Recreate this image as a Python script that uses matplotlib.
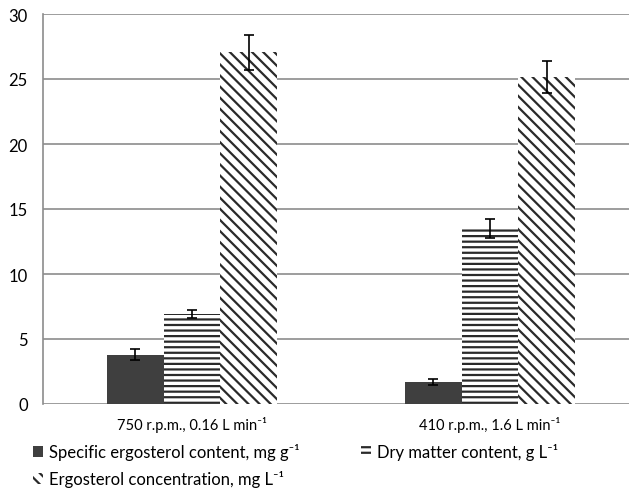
import numpy as np
import matplotlib
matplotlib.use("Agg")
import matplotlib.pyplot as plt
from matplotlib.patches import Patch

plt.rcParams['font.family'] = ['Lato', 'DejaVu Sans']
plt.rcParams['hatch.linewidth'] = 1.6

conditions = ['750 r.p.m., 0.16 L min\u207b\u00b9', '410 r.p.m., 1.6 L min\u207b\u00b9']
series = ['Specific ergosterol content, mg g\u207b\u00b9',
          'Dry matter content, g L\u207b\u00b9',
          'Ergosterol concentration, mg L\u207b\u00b9']
specific = [3.8, 1.72]
specific_err = [0.45, 0.22]
dry_matter = [6.9, 13.5]
dry_matter_err = [0.32, 0.7]
ergosterol = [27.05, 25.15]
ergosterol_err = [1.35, 1.25]

W, H = 629, 489
fig = plt.figure(figsize=(W / 100, H / 100), dpi=100)
ax = fig.add_axes([43 / W, (H - 405) / H, (W - 43) / W, 390 / H])

x = np.arange(len(conditions))
bw = 0.19
err_kw = dict(ecolor='black', elinewidth=1.2, capsize=3.5, capthick=1.2)
diag = '\\\\\\'

ax.bar(x - bw, specific, bw, yerr=specific_err, color='#3f3f3f',
       error_kw=err_kw, zorder=3)
ax.bar(x, dry_matter, bw, yerr=dry_matter_err, color='white', edgecolor='#2a2a2a',
       hatch='---', linewidth=0, error_kw=err_kw, zorder=3)
ax.bar(x + bw, ergosterol, bw, yerr=ergosterol_err, color='white', edgecolor='#2a2a2a',
       hatch=diag, linewidth=0, error_kw=err_kw, zorder=3)

ax.set_xlim(-0.5, (W - 43) / 298 - 0.5)
ax.set_ylim(0, 30)
ax.set_yticks(range(0, 31, 5))
ax.set_xticks(x)
ax.set_xticklabels(conditions, fontsize=10.5, color='black')
ax.tick_params(axis='y', length=0, pad=11, labelsize=12, labelcolor='black')
ax.tick_params(axis='x', length=0, pad=9)
ax.yaxis.grid(True, color='#8c8c8c', linewidth=1.2, zorder=0)
ax.set_axisbelow(True)
for side in ['top', 'right', 'bottom']:
    ax.spines[side].set_visible(False)
ax.spines['left'].set_color('#8c8c8c')
ax.spines['left'].set_linewidth(1.2)

handles = [Patch(facecolor='#3f3f3f', label=series[0]),
           Patch(facecolor='white', edgecolor='#2a2a2a', hatch=diag, linewidth=0, label=series[2]),
           Patch(facecolor='white', edgecolor='#2a2a2a', hatch='---', linewidth=0, label=series[1])]
fig.legend(handles=handles, ncol=2, loc='upper left',
           bbox_to_anchor=(25 / W, 1 - 436 / H), bbox_transform=fig.transFigure,
           frameon=False, fontsize=12,
           handlelength=0.6, handleheight=0.6, handletextpad=0.35,
           columnspacing=3.7, labelspacing=0.6, borderpad=0, labelcolor='black')

fig.savefig('out.png', dpi=100)
